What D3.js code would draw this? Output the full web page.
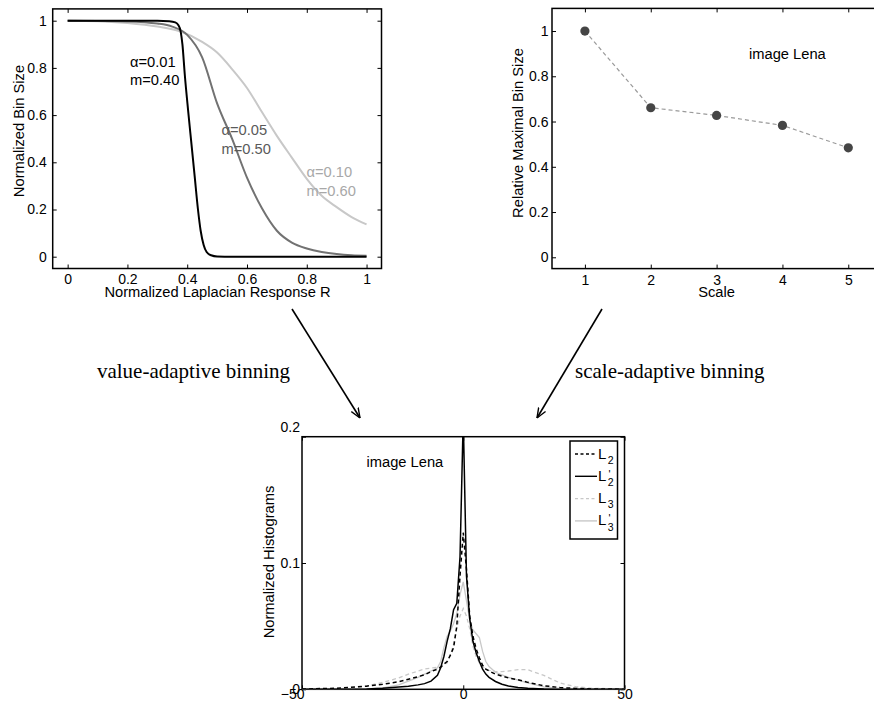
<!DOCTYPE html>
<html><head><meta charset="utf-8">
<script src="https://cdn.jsdelivr.net/npm/d3@7"></script>
<style>
body{margin:0;background:#fff}
svg{display:block}
</style></head>
<body><svg id="c" width="874" height="709"></svg>
<script>
// ---------- Data: panel A (bin size curves) ----------
const curveA_R = [0, 0.2, 0.3, 0.34, 0.36, 0.37, 0.378, 0.384, 0.392, 0.403, 0.414, 0.425, 0.436, 0.445, 0.455, 0.465, 0.48, 0.5, 0.55, 1.0];
const curveA_V = [1, 1, 1, 0.998, 0.993, 0.982, 0.955, 0.9, 0.77, 0.62, 0.48, 0.34, 0.2, 0.11, 0.05, 0.02, 0.006, 0.001, 0, 0];
const curveB_R = [0, 0.1, 0.2, 0.3, 0.35, 0.4, 0.45, 0.5, 0.55, 0.6, 0.65, 0.7, 0.75, 0.8, 0.85, 0.9, 0.95, 1];
const curveB_V = [1, 0.999, 0.997, 0.988, 0.975, 0.94, 0.845, 0.65, 0.5, 0.335, 0.205, 0.11, 0.06, 0.035, 0.02, 0.011, 0.006, 0.004];
const curveC_R = [0, 0.1, 0.2, 0.3, 0.375, 0.45, 0.5, 0.55, 0.6, 0.65, 0.7, 0.75, 0.8, 0.85, 0.9, 0.95, 1];
const curveC_V = [1, 0.998, 0.99, 0.975, 0.955, 0.91, 0.865, 0.795, 0.715, 0.613, 0.512, 0.42, 0.33, 0.258, 0.21, 0.168, 0.137];
const curveLabels = [["α=0.01","m=0.40"],["α=0.05","m=0.50"],["α=0.10","m=0.60"]];
const ticksA = [0, 0.2, 0.4, 0.6, 0.8, 1];

// ---------- Data: panel B (relative maximal bin size) ----------
const scales = [1, 2, 3, 4, 5];
const relMaxBin = [1.0, 0.661, 0.627, 0.583, 0.484];
const ticksBY = [0, 0.2, 0.4, 0.6, 0.8, 1];

// ---------- Data: panel C (histograms) ----------
const bins = [-50,-40,-35,-30,-25,-20,-17,-14,-12,-10,-8,-7,-6,-5,-4,-3,-2,-1,0,1,2,3,4,5,6,7,8,10,12,14,17,20,25,30,35,40,50];
const histL2  = [0.0002,0.0008,0.0015,0.0025,0.004,0.006,0.008,0.01,0.0115,0.014,0.016,0.0175,0.02,0.022,0.027,0.033,0.05,0.09,0.124,0.095,0.058,0.042,0.032,0.025,0.019,0.016,0.0145,0.012,0.0105,0.009,0.0075,0.0055,0.0028,0.0014,0.0007,0.0003,0.0001];
const histL2p = [0,0,0.0001,0.0003,0.0008,0.0018,0.0025,0.0035,0.0045,0.0065,0.011,0.017,0.026,0.038,0.048,0.063,0.068,0.105,0.215,0.09,0.056,0.038,0.029,0.022,0.016,0.012,0.0095,0.0062,0.004,0.0026,0.0014,0.0008,0.0003,0.0001,0,0,0];
const histL3  = [0,0.0004,0.001,0.0025,0.0055,0.009,0.012,0.0145,0.016,0.0168,0.0175,0.018,0.019,0.021,0.027,0.036,0.048,0.058,0.064,0.058,0.048,0.034,0.026,0.021,0.018,0.016,0.015,0.014,0.014,0.0145,0.0155,0.0155,0.011,0.005,0.002,0.0008,0.0002];
const histL3p = [0,0,0.0001,0.0004,0.0012,0.0035,0.0065,0.0095,0.012,0.0145,0.017,0.022,0.033,0.042,0.046,0.052,0.06,0.075,0.085,0.07,0.055,0.047,0.044,0.041,0.03,0.022,0.018,0.0135,0.0115,0.0095,0.0072,0.005,0.002,0.0007,0.0002,0,0];
const legendNames = [["L","2",false],["L","2",true],["L","3",false],["L","3",true]];
const ticksCX = [-50, 0, 50];
const ticksCY = [0, 0.1, 0.2];

// ---------- Drawing ----------
const SANS = '"Liberation Sans",Arial,Helvetica,sans-serif';
const SERIF = '"Liberation Serif","DejaVu Serif",serif';
const TICK_FS = 14, LAB_FS = 14.7;
const svg = d3.select("#c");
const fmt = d3.format("~g");

function txt(x, y, s, fs, opts={}){
  const t = svg.append("text").attr("x",x).attr("y",y).attr("font-size",fs)
    .attr("font-family",opts.family||SANS).attr("fill",opts.fill||"#000").text(s);
  if(opts.anchor) t.attr("text-anchor",opts.anchor);
  return t;
}

function panel(id, xs, ys, opts){
  const g = svg.append("g");
  const [x0,x1] = xs.range(), [y0,y1] = ys.range();
  svg.append("clipPath").attr("id", id).append("rect")
    .attr("x", x0).attr("y", y1).attr("width", x1-x0).attr("height", y0-y1);
  const ax = g.append("g").attr("transform",`translate(0,${y0})`)
    .call(d3.axisBottom(xs).tickValues(opts.xt).tickFormat(opts.xf||fmt).tickSize(-4).tickPadding(opts.xpad));
  g.append("g").attr("transform",`translate(0,${y1})`)
    .call(d3.axisTop(xs).tickValues(opts.xt).tickFormat("").tickSize(-4));
  const ay = g.append("g").attr("transform",`translate(${x0},0)`)
    .call(d3.axisLeft(ys).tickValues(opts.yt).tickFormat(fmt).tickSize(-4).tickPadding(opts.ypad));
  g.append("g").attr("transform",`translate(${x1},0)`)
    .call(d3.axisRight(ys).tickValues(opts.yt).tickFormat("").tickSize(-4));
  g.selectAll(".domain").remove();
  g.selectAll(".tick line").attr("stroke","#000").attr("stroke-width",1);
  g.selectAll("g").attr("font-family",SANS).attr("font-size",TICK_FS);
  g.selectAll(".tick text").attr("fill","#000");
  g.append("rect").attr("x",x0).attr("y",y1).attr("width",x1-x0).attr("height",y0-y1)
    .attr("fill","none").attr("stroke","#000").attr("stroke-width",1.5);
  return {g, ax, ay, clip:`url(#${id})`};
}

// ----- Panel A -----
const xA = d3.scaleLinear().domain([-0.05,1.05]).range([52.7,381.5]);
const yA = d3.scaleLinear().domain([-0.05,1.05]).range([268.5,8.9]);
const pA = panel("clipA", xA, yA, {xt:ticksA, yt:ticksA, xpad:5.5, ypad:6});
const lineA = d3.line().x(d=>xA(d[0])).y(d=>yA(d[1])).curve(d3.curveMonotoneX);
const seriesA = [
  {R:curveC_R, V:curveC_V, c:"#c8c8c8"},
  {R:curveB_R, V:curveB_V, c:"#727272"},
  {R:curveA_R, V:curveA_V, c:"#000000"}
];
seriesA.forEach(s=>{
  pA.g.append("path").attr("clip-path",pA.clip)
    .attr("d", lineA(s.R.map((r,i)=>[r,s.V[i]])))
    .attr("fill","none").attr("stroke",s.c).attr("stroke-width",2);
});
const labA = [{x:130,y:66.5,c:"#000"},{x:221.5,y:135,c:"#5a5a5a"},{x:306.5,y:177,c:"#a8a8a8"}];
curveLabels.forEach((l,i)=>{
  txt(labA[i].x, labA[i].y, l[0], LAB_FS, {fill:labA[i].c});
  txt(labA[i].x, labA[i].y+18.5, l[1], LAB_FS, {fill:labA[i].c});
});
txt(217.5, 296.5, "Normalized Laplacian Response R", LAB_FS, {anchor:"middle"});
txt(0, 0, "Normalized Bin Size", LAB_FS, {anchor:"middle"}).attr("transform","translate(23.5,131) rotate(-90)");

// ----- Panel B -----
const xB = d3.scaleLinear().domain([0.5,5.5]).range([552,881.2]);
const yB = d3.scaleLinear().domain([-0.05,1.1]).range([268.6,8.4]);
const pB = panel("clipB", xB, yB, {xt:scales, yt:ticksBY, xpad:6, ypad:3.5});
const lineB = d3.line().x(d=>xB(d[0])).y(d=>yB(d[1]));
const ptsB = scales.map((s,i)=>[s, relMaxBin[i]]);
pB.g.append("path").attr("d",lineB(ptsB)).attr("fill","none")
  .attr("stroke","#9a9a9a").attr("stroke-width",1.2).attr("stroke-dasharray","4,3");
pB.g.selectAll("circle.pt").data(ptsB).join("circle").attr("class","pt")
  .attr("cx",d=>xB(d[0])).attr("cy",d=>yB(d[1])).attr("r",4.6).attr("fill","#454545");
txt(749, 58.5, "image Lena", LAB_FS);
txt(716.5, 297, "Scale", LAB_FS, {anchor:"middle"});
txt(0, 0, "Relative Maximal Bin Size", LAB_FS, {anchor:"middle"}).attr("transform","translate(523,133) rotate(-90)");

// ----- Panel C -----
const xC = d3.scaleLinear().domain([-50,50]).range([302,624.5]);
const yC = d3.scaleLinear().domain([0,0.2]).range([689.3,436.7]);
const pC = panel("clipC", xC, yC, {xt:ticksCX, yt:ticksCY, xpad:0, ypad:2});
pC.ax.selectAll(".tick text").filter(d=>d===-50).attr("text-anchor","end").attr("dx",2);
pC.ay.selectAll(".tick text").filter(d=>d===0.2).attr("dy","-0.4em");
const lineC = d3.line().x((d,i)=>xC(bins[i])).y(d=>yC(d));
const seriesC = [
  {v:histL3, c:"#c8c8c8", dash:"4,3", w:1.3},
  {v:histL3p, c:"#c8c8c8", dash:null, w:1.3},
  {v:histL2, c:"#000", dash:"4,3", w:1.5},
  {v:histL2p, c:"#000", dash:null, w:1.5}
];
seriesC.forEach(s=>{
  pC.g.append("path").attr("clip-path",pC.clip).attr("d",lineC(s.v))
    .attr("fill","none").attr("stroke",s.c).attr("stroke-width",s.w)
    .attr("stroke-dasharray",s.dash);
});
txt(366.5, 467, "image Lena", LAB_FS);
txt(0, 0, "Normalized Histograms", LAB_FS, {anchor:"middle"}).attr("transform","translate(273.5,562) rotate(-90)");
// legend
const legX = 570, legY = 441, legW = 47.5, legH = 98;
svg.append("rect").attr("x",legX).attr("y",legY).attr("width",legW).attr("height",legH)
  .attr("fill","#fff").attr("stroke","#000").attr("stroke-width",1.5);
const legStyle = [{c:"#000",dash:"3,2.5"},{c:"#000",dash:null},{c:"#c8c8c8",dash:"3,2.5"},{c:"#c8c8c8",dash:null}];
legendNames.forEach((n,i)=>{
  const ry = 454 + i*22.3;
  svg.append("line").attr("x1",legX+5).attr("x2",legX+27).attr("y1",ry).attr("y2",ry)
    .attr("stroke",legStyle[i].c).attr("stroke-width",1.4).attr("stroke-dasharray",legStyle[i].dash);
  txt(legX+28, ry+4.5, n[0], 15);
  if(n[2]) txt(legX+38.5, ry+1.5, "'", 10.5);
  txt(legX+37.8, ry+9.8, n[1], 10.5);
});

// ----- Arrows and captions -----
const defs = svg.append("defs");
defs.append("marker").attr("id","ah").attr("viewBox","0 0 10 10").attr("refX",10).attr("refY",5)
  .attr("markerWidth",10).attr("markerHeight",10).attr("markerUnits","userSpaceOnUse").attr("orient","auto")
  .append("path").attr("d","M0,1 L10,5 L0,9").attr("fill","none").attr("stroke","#000").attr("stroke-width",1.4);
svg.append("line").attr("x1",292).attr("y1",309).attr("x2",360).attr("y2",418)
  .attr("stroke","#000").attr("stroke-width",1.6).attr("marker-end","url(#ah)");
svg.append("line").attr("x1",602).attr("y1",309).attr("x2",537).attr("y2",418)
  .attr("stroke","#000").attr("stroke-width",1.6).attr("marker-end","url(#ah)");
txt(290, 378, "value-adaptive binning", 21, {family:SERIF, anchor:"end"});
txt(575, 378, "scale-adaptive binning", 21, {family:SERIF});
</script>
</body></html>
